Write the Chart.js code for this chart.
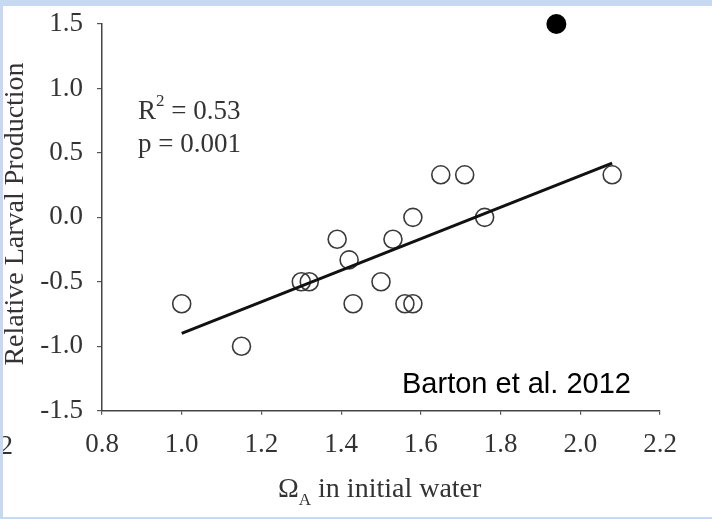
<!DOCTYPE html>
<html>
<head>
<meta charset="utf-8">
<script src="https://cdn.jsdelivr.net/npm/chart.js@4"></script>
<style>
  html, body { margin: 0; padding: 0; }
  #frame { position: relative; width: 712px; height: 519px; background: #c6d9f1; overflow: hidden; }
  #c { position: absolute; left: 3px; top: 6px; background: #fff; }
</style>
</head>
<body>
<div id="frame"><canvas id="c" width="709" height="511"></canvas></div>
<script>
// Aragonite saturation state of initial water vs. relative larval production
const omegaA   = [1.00, 1.15, 1.30, 1.32, 1.39, 1.42, 1.43, 1.50, 1.53, 1.56, 1.58, 1.58, 1.65, 1.71, 1.76, 2.08];
const larvalProd = [-0.67, -1.00, -0.50, -0.50, -0.17, -0.33, -0.67, -0.50, -0.17, -0.67, -0.67, 0.00, 0.33, 0.33, 0.00, 0.33];
// excluded outlier (filled marker)
const outlierX = [1.94];
const outlierY = [1.50];
// least-squares fit line endpoints
const fitX = [1.00, 2.08];
const fitY = [-0.90, 0.42];
const xTicks = [0.8, 1.0, 1.2, 1.4, 1.6, 1.8, 2.0, 2.2];
const yTicks = [-1.5, -1.0, -0.5, 0.0, 0.5, 1.0, 1.5];
const statR2 = '0.53';
const statP = '0.001';
const yTitle = 'Relative Larval Production';
const xTitleMain = 'Ω';
const xTitleSub = 'A';
const xTitleRest = ' in initial water';
const citation = 'Barton et al. 2012';
const edgeLabel = '2';

const serif = '"Liberation Serif", "Times New Roman", serif';
const ink = '#333';
const FS = 27;

const toPts = (xs, ys) => xs.map((x, i) => ({ x, y: ys[i] }));

const annotations = {
  id: 'annotations',
  afterDraw(chart) {
    const ctx = chart.ctx;
    ctx.save();
    ctx.fillStyle = ink;
    ctx.textBaseline = 'alphabetic';

    // y-axis title
    ctx.save();
    ctx.translate(20, 208);
    ctx.rotate(-Math.PI / 2);
    ctx.textAlign = 'center';
    ctx.font = '28px ' + serif;
    ctx.fillText(yTitle, 0, 0);
    ctx.restore();

    // x-axis title with subscript
    ctx.textAlign = 'left';
    let x = 275;
    ctx.font = '28px ' + serif;
    ctx.fillText(xTitleMain, x, 491);
    x += ctx.measureText(xTitleMain).width;
    ctx.font = '17px ' + serif;
    ctx.fillText(xTitleSub, x, 499);
    x += ctx.measureText(xTitleSub).width;
    ctx.font = '28px ' + serif;
    ctx.fillText(xTitleRest, x, 491);

    // statistics
    ctx.font = FS + 'px ' + serif;
    x = 135;
    ctx.fillText('R', x, 113);
    x += ctx.measureText('R').width;
    ctx.font = '17px ' + serif;
    ctx.fillText('2', x, 100);
    x += ctx.measureText('2').width;
    ctx.font = FS + 'px ' + serif;
    ctx.fillText(' = ' + statR2, x, 113);
    ctx.fillText('p = ' + statP, 135, 146);

    // fragment of a neighbouring label at the left edge
    ctx.textAlign = 'right';
    ctx.fillText(edgeLabel, 10, 448);

    // citation
    ctx.textAlign = 'left';
    ctx.fillStyle = '#000';
    ctx.font = '29px "Liberation Sans", Arial, sans-serif';
    ctx.fillText(citation, 399, 387);
    ctx.restore();
  }
};

new Chart(document.getElementById('c'), {
  type: 'scatter',
  data: {
    datasets: [
      {
        type: 'line',
        data: toPts(fitX, fitY),
        borderColor: '#111',
        borderWidth: 3,
        pointRadius: 0,
        fill: false,
        clip: false
      },
      {
        data: toPts(omegaA, larvalProd),
        pointRadius: 9,
        pointBorderWidth: 1.6,
        borderColor: '#3a3a3a',
        backgroundColor: 'rgba(0,0,0,0)',
        clip: false
      },
      {
        data: toPts(outlierX, outlierY),
        pointRadius: 10,
        pointBorderWidth: 0,
        borderColor: '#000',
        backgroundColor: '#000',
        clip: false
      }
    ]
  },
  options: {
    responsive: false,
    devicePixelRatio: 1,
    animation: false,
    events: [],
    layout: { padding: { top: 18, right: 52, left: 0, bottom: 0 } },
    plugins: { legend: { display: false }, tooltip: { enabled: false } },
    scales: {
      x: {
        type: 'linear',
        min: 0.8,
        max: 2.2,
        afterBuildTicks(scale) { scale.ticks = xTicks.map(v => ({ value: v })); },
        afterFit(scale) {
          scale.height = 106.3;
          scale.paddingLeft = 0; scale.paddingRight = 0;
          scale.paddingTop = 0; scale.paddingBottom = 0;
        },
        ticks: {
          callback: v => v.toFixed(1),
          color: ink,
          font: { family: serif, size: FS },
          padding: 14,
          maxRotation: 0
        },
        grid: { drawOnChartArea: false, drawTicks: true, tickLength: 4, color: '#555', lineWidth: 1.2 },
        border: { display: true, color: '#444', width: 1.5 }
      },
      y: {
        type: 'linear',
        min: -1.5,
        max: 1.5,
        afterBuildTicks(scale) { scale.ticks = yTicks.map(v => ({ value: v })); },
        afterFit(scale) {
          scale.width = 99;
          scale.paddingLeft = 0; scale.paddingRight = 0;
          scale.paddingTop = 0; scale.paddingBottom = 0;
        },
        ticks: {
          callback: v => v.toFixed(1),
          color: ink,
          font: { family: serif, size: FS },
          padding: 14
        },
        grid: { drawOnChartArea: false, drawTicks: true, tickLength: 5, color: '#555', lineWidth: 1.2 },
        border: { display: true, color: '#444', width: 1.5 }
      }
    }
  },
  plugins: [annotations]
});
</script>
</body>
</html>
